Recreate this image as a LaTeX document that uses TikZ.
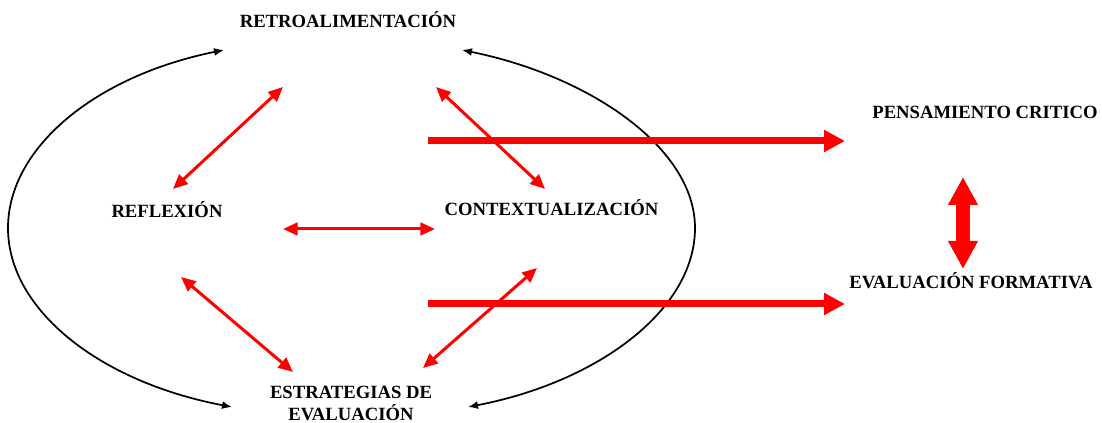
\documentclass[tikz,border=0pt]{standalone}
\usepackage{fontspec}
\setmainfont{Liberation Serif}
\usetikzlibrary{arrows.meta,positioning}

\begin{document}
\begin{tikzpicture}[x=0.75pt,y=-0.75pt,
  lbl/.style={font=\bfseries\fontsize{14}{16.5}\selectfont, inner sep=0pt, anchor=base, align=center},
  ringline/.style={black, line width=1.3pt, {Latex[length=7.5pt,width=6pt]}-{Latex[length=7.5pt,width=6pt]}},
  pairline/.style={red, line width=2.25pt, {Triangle[length=11pt,width=9.5pt]}-{Triangle[length=11pt,width=9.5pt]}},
  leadline/.style={red, line width=5.25pt, -{Triangle[length=15.75pt,width=15.75pt]}},
  bigpair/.style={red, line width=10.5pt, {Triangle[length=21pt,width=21pt]}-{Triangle[length=21pt,width=21pt]}}]

\useasboundingbox (0,0) rectangle (1102,423);

\node[lbl] (retro) at (348,28) {RETROALIMENTACIÓN};
\node[lbl] (refl) at (167,218) {REFLEXIÓN};
\node[lbl] (ctx) at (551.5,216) {CONTEXTUALIZACIÓN};
\node[lbl] (estr) at (351,421) {ESTRATEGIAS DE\\EVALUACIÓN};
\node[lbl] (pens) at (985,119) {PENSAMIENTO CRITICO};
\node[lbl] (evalf) at (971,289) {EVALUACIÓN FORMATIVA};

% ends of the two black arcs
\coordinate (lt) at (224,50);
\coordinate (lm) at (8,228);
\coordinate (lb) at (232,407);
\coordinate (rt) at (462,50);
\coordinate (rm) at (695,228);
\coordinate (rb) at (468,407);

\draw[ringline] (lt) .. controls (95,76) and (8,148) .. (lm) .. controls (8,310) and (100,382) .. (lb);
\draw[ringline] (rt) .. controls (590,76) and (695,148) .. (rm) .. controls (695,310) and (598,382) .. (rb);

% red links between the four ideas
\coordinate (retroL) at (283,87);
\coordinate (reflT) at (173,189);
\coordinate (retroR) at (436,87);
\coordinate (ctxT) at (545,189);
\coordinate (reflR) at (283,229);
\coordinate (ctxL) at (435,229);
\coordinate (reflB) at (181,277);
\coordinate (estrL) at (293,372);
\coordinate (ctxB) at (537,268);
\coordinate (estrR) at (423,368);

\draw[pairline] (retroL)--(reflT);
\draw[pairline] (retroR)--(ctxT);
\draw[pairline] (reflR)--(ctxL);
\draw[pairline] (reflB)--(estrL);
\draw[pairline] (ctxB)--(estrR);

% big arrows to the right
\coordinate (up1) at (428,141);
\coordinate (up2) at (845,141);
\coordinate (lo1) at (428,304);
\coordinate (lo2) at (845,304);
\coordinate (pensB) at (963,177);
\coordinate (evalT) at (963,269);

\draw[leadline] (up1)--(up2);
\draw[leadline] (lo1)--(lo2);
\draw[bigpair] (pensB)--(evalT);
\end{tikzpicture}
\end{document}
